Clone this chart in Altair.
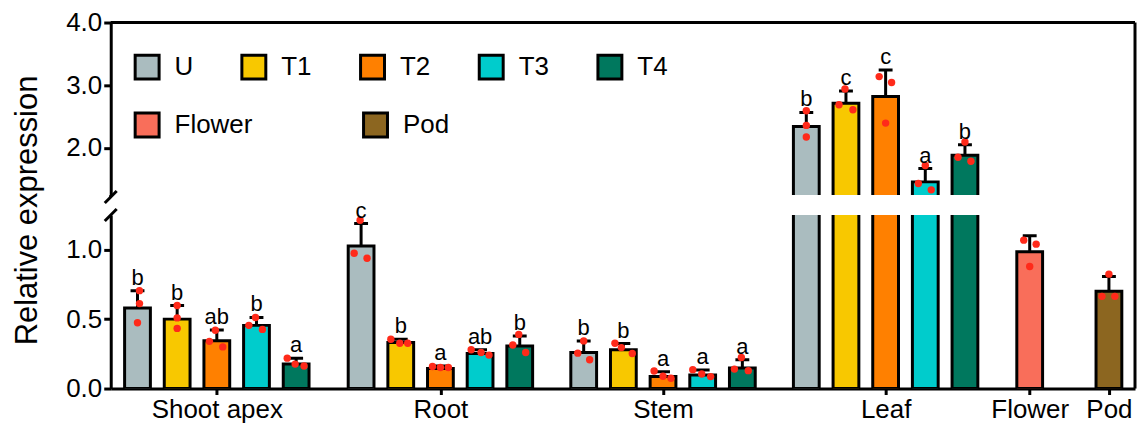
import altair as alt
import pandas as pd

# ---------------- data ----------------
groups = ["Shoot apex", "Root", "Stem", "Leaf"]
treatments = ["U", "T1", "T2", "T3", "T4"]
tissues = ["Flower", "Pod"]

mean_shoot_apex = [0.58, 0.50, 0.345, 0.455, 0.176]
sd_shoot_apex = [0.125, 0.098, 0.076, 0.057, 0.043]
mean_root = [1.026, 0.331, 0.145, 0.252, 0.307]
sd_root = [0.162, 0.024, 0.017, 0.027, 0.072]
mean_stem = [0.26, 0.279, 0.086, 0.098, 0.148]
sd_stem = [0.083, 0.045, 0.035, 0.035, 0.059]
mean_leaf = [2.344, 2.714, 2.82, 1.46, 1.884]
sd_leaf = [0.223, 0.196, 0.423, 0.212, 0.169]
mean_tissue = [0.986, 0.70]
sd_tissue = [0.114, 0.107]

reps_shoot_apex = [[0.705, 0.612, 0.474], [0.598, 0.509, 0.433], [0.42, 0.34, 0.30],
                   [0.512, 0.455, 0.426], [0.219, 0.176, 0.162]]
reps_root = [[1.212, 0.974, 0.938], [0.355, 0.326, 0.326], [0.159, 0.152, 0.152],
             [0.279, 0.26, 0.241], [0.39, 0.314, 0.26]]
reps_stem = [[0.343, 0.255, 0.207], [0.326, 0.295, 0.252], [0.126, 0.088, 0.074],
             [0.136, 0.105, 0.086], [0.224, 0.14, 0.129]]
reps_leaf = [[2.593, 2.36, 2.175], [2.94, 2.69, 2.61], [3.138, 3.043, 2.397],
             [1.72, 1.433, 1.333], [2.095, 1.852, 1.789]]
reps_tissue = [[1.069, 1.04, 0.879], [0.824, 0.664, 0.664]]

letters_shoot_apex = ["b", "b", "ab", "b", "a"]
letters_root = ["c", "b", "a", "ab", "b"]
letters_stem = ["b", "b", "a", "a", "a"]
letters_leaf = ["b", "c", "c", "a", "b"]

y_title = "Relative expression"
upper_ticks = [2.0, 3.0, 4.0]
lower_ticks = [0.0, 0.5, 1.0]
break_value = 1.25
y_max = 4.0

# ---------------- layout / style ----------------
FONT = "Liberation Sans"
treat_colors = ["#AABCBF", "#F8C800", "#FF8000", "#00CCCC", "#00785E"]
tissue_colors = ["#F96E5A", "#8C6620"]
DOT_COLOR = "#FF2A1A"

X_MAX = 1033.0
GROUP_CENTERS = [107.0, 332.5, 557.0, 781.5]
TISSUE_CENTERS = [926.8, 1006.7]
PITCH = 40.0
HALF_BAR = 13.0
HALF_CAP = 7.0
DOT_DX_GROUPS = [
    [[2, 2, 0], [0, 0, 0], [-1.5, -7.5, 6], [-1, -7.7, 6], [-9, -1, 8]],
    [[-1, -7, 6], [-10, -1, 7], [-8, 0, 8], [-9, 1, 9], [-1, -7, 6]],
    [[0, -6, 6], [-8.5, -2, 9], [-9, 0, 8], [-10, -1, 8], [-1, -8, 6]],
    [[0, 0, 0], [-1, -7, 7], [-6.5, 6, 0], [0, -7, 6], [0, -7, 6]],
]
DOT_DX_TISSUE = [[-6, 6.5, 0], [0, -7, 6]]

W = 1027
H_UP = 173
H_LO = 174
GAP = 20
SW = 3

# ---------------- tables ----------------
bar_rows, dot_rows = [], []
group_means = [mean_shoot_apex, mean_root, mean_stem, mean_leaf]
group_sds = [sd_shoot_apex, sd_root, sd_stem, sd_leaf]
group_reps = [reps_shoot_apex, reps_root, reps_stem, reps_leaf]
group_letters = [letters_shoot_apex, letters_root, letters_stem, letters_leaf]

for g, gc, ms, ss, rs, ls, dxs in zip(groups, GROUP_CENTERS, group_means, group_sds,
                                       group_reps, group_letters, DOT_DX_GROUPS):
    for i, t in enumerate(treatments):
        xc = gc + (i - 2) * PITCH
        bar_rows.append(dict(group=g, cat=t, kind="treat", xc=xc, xl=xc - HALF_BAR,
                             xr=xc + HALF_BAR, capl=xc - HALF_CAP, capr=xc + HALF_CAP,
                             mean=ms[i], top=ms[i] + ss[i], base=0.0, letter=ls[i]))
        for v, dx in zip(rs[i], dxs[i]):
            dot_rows.append(dict(x=xc + dx, v=v))

for j, t in enumerate(tissues):
    xc = TISSUE_CENTERS[j]
    bar_rows.append(dict(group=t, cat=t, kind="tissue", xc=xc, xl=xc - HALF_BAR,
                         xr=xc + HALF_BAR, capl=xc - HALF_CAP, capr=xc + HALF_CAP,
                         mean=mean_tissue[j], top=mean_tissue[j] + sd_tissue[j],
                         base=0.0, letter=""))
    for v, dx in zip(reps_tissue[j], DOT_DX_TISSUE[j]):
        dot_rows.append(dict(x=xc + dx, v=v))

bars_df = pd.DataFrame(bar_rows)
dots_df = pd.DataFrame(dot_rows)
one = pd.DataFrame({"d": [0]})

tick_centers = GROUP_CENTERS + TISSUE_CENTERS
tick_names = groups + tissues
label_expr = "".join(f"datum.value == {c} ? '{n}' : " for c, n in zip(tick_centers, tick_names)) + "''"

xscale = alt.Scale(domain=[0, X_MAX], nice=False, zero=False)
x_axis_lo = alt.Axis(values=tick_centers, labelExpr=label_expr, title=None, labelFlush=False,
                     labelOverlap=False, tickSize=6, labelPadding=2, grid=False)


def panel(upper):
    yscale = alt.Scale(domain=[break_value, y_max] if upper else [0, break_value],
                       nice=False, zero=False)
    if upper:
        yaxis = alt.Axis(values=upper_ticks, format=".1f", title=None, grid=False, tickSize=7)
        xaxis = None
    else:
        yaxis = alt.Axis(values=lower_ticks, format=".1f", title=y_title, grid=False, tickSize=7,
                         titleX=-74, titleY=-5, titleAngle=-90, titleAlign="center",
                         titleBaseline="alphabetic", titleFontSize=31, titleFont=FONT,
                         titleFontWeight="normal")
        xaxis = x_axis_lo

    def X(f):
        return alt.X(f"{f}:Q", scale=xscale, axis=xaxis)

    def Y(f):
        return alt.Y(f"{f}:Q", scale=yscale, axis=yaxis)

    legend_t = alt.Legend(title=None, orient="none", legendX=23, legendY=31, direction="horizontal",
                          symbolType="square", symbolSize=576, symbolStrokeColor="black",
                          symbolStrokeWidth=SW, symbolOpacity=1, labelFontSize=26, labelFont=FONT,
                          labelOffset=14, columnPadding=42, padding=0) if upper else None
    legend_s = alt.Legend(title=None, orient="none", legendX=23, legendY=89, direction="horizontal",
                          symbolType="square", symbolSize=576, symbolStrokeColor="black",
                          symbolStrokeWidth=SW, symbolOpacity=1, labelFontSize=26, labelFont=FONT,
                          labelOffset=14, columnPadding=104, padding=0) if upper else None

    cond_top = f"datum.top > {break_value}" if upper else f"datum.top <= {break_value}"
    cond_dot = f"datum.v > {break_value}" if upper else f"datum.v <= {break_value}"

    base = alt.Chart(bars_df)
    treat_bars = base.transform_filter("datum.kind == 'treat'").mark_rect(
        stroke="black", strokeWidth=SW, clip=True).encode(
        x=X("xl"), x2="xr:Q", y=Y("mean"), y2="base:Q",
        fill=alt.Fill("cat:N", scale=alt.Scale(domain=treatments, range=treat_colors), legend=legend_t))
    tissue_bars = base.transform_filter("datum.kind == 'tissue'").mark_rect(
        stroke="black", strokeWidth=SW, clip=True).encode(
        x=X("xl"), x2="xr:Q", y=Y("mean"), y2="base:Q",
        fill=alt.Fill("cat:N", scale=alt.Scale(domain=tissues, range=tissue_colors), legend=legend_s))
    err = base.transform_filter(cond_top).mark_rule(color="black", strokeWidth=SW, clip=True).encode(
        x=X("xc"), y=Y("mean"), y2="top:Q")
    caps = base.transform_filter(cond_top).mark_rule(color="black", strokeWidth=SW, clip=True).encode(
        x=X("capl"), x2="capr:Q", y=Y("top"))
    dots = alt.Chart(dots_df).transform_filter(cond_dot).mark_circle(
        size=55, color=DOT_COLOR, opacity=1, clip=True).encode(x=X("x"), y=Y("v"))
    letters = base.transform_filter(f"datum.letter != '' && {cond_top}").mark_text(
        dy=-6, baseline="alphabetic", fontSize=22, font=FONT, color="black").encode(
        x=X("xc"), y=Y("top"), text="letter:N")

    deco = alt.Chart(one)
    if upper:
        extra = [
            deco.mark_rule(color="black", strokeWidth=SW).encode(
                x=alt.value(0), x2=alt.value(W), y=alt.value(0)),
            deco.mark_rule(color="black", strokeWidth=SW).encode(
                x=alt.value(W), y=alt.value(0), y2=alt.value(H_UP + GAP)),
            deco.mark_rule(color="black", strokeWidth=SW).encode(
                x=alt.value(0), y=alt.value(H_UP), y2=alt.value(H_UP + 2)),
            deco.mark_rule(color="black", strokeWidth=SW).encode(
                x=alt.value(-6), x2=alt.value(6), y=alt.value(H_UP + 8), y2=alt.value(H_UP - 4)),
        ]
    else:
        extra = [
            deco.mark_rule(color="black", strokeWidth=SW).encode(
                x=alt.value(W), y=alt.value(0), y2=alt.value(H_LO)),
            deco.mark_rule(color="black", strokeWidth=SW).encode(
                x=alt.value(-6), x2=alt.value(6), y=alt.value(6), y2=alt.value(-6)),
        ]

    return alt.layer(treat_bars, tissue_bars, err, caps, dots, letters, *extra).resolve_scale(
        fill="independent").properties(width=W, height=H_UP if upper else H_LO)


chart = alt.vconcat(panel(True), panel(False), spacing=GAP, bounds="flush").resolve_scale(
    fill="independent", x="shared").properties(
    padding={"left": 3, "top": 1, "right": 0, "bottom": 0}
).configure_view(stroke=None).configure_axis(
    domainColor="black", domainWidth=SW, tickColor="black", tickWidth=SW,
    labelColor="black", labelFontSize=26, labelFont=FONT, titleColor="black"
)

chart.save("out.html", embed_options={"renderer": "svg", "actions": False})
